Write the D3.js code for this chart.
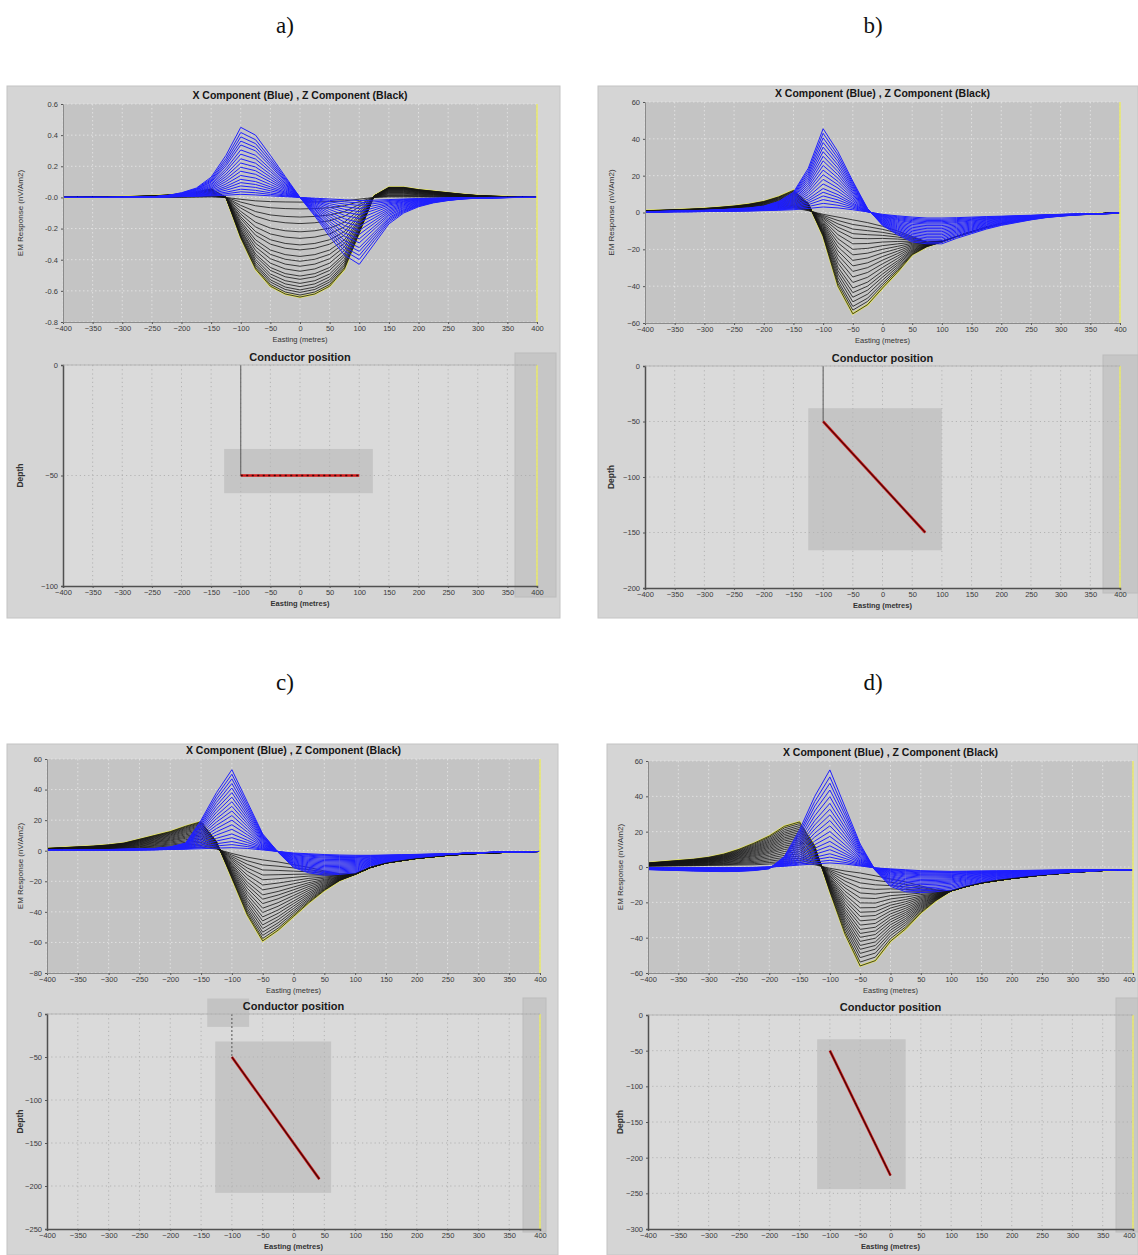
<!DOCTYPE html>
<html>
<head>
<meta charset="utf-8">
<script src="https://cdn.jsdelivr.net/npm/d3@7"></script>
<style>
  body { margin: 0; background: #ffffff; }
  svg { display: block; font-family: "Liberation Sans", Arial, sans-serif; }
</style>
</head>
<body>
<svg id="fig" width="1138" height="1255"></svg>
<script>
// ---------------------------------------------------------------
// Profile stations (easting, metres) shared by every response curve
// ---------------------------------------------------------------
const easting = [-400,-375,-350,-325,-300,-275,-250,-225,-200,-175,-150,-125,-100,-75,-50,-25,0,
                 25,50,75,100,125,150,175,200,225,250,275,300,325,350,375,400];
const eastingTicks = [-400,-350,-300,-250,-200,-150,-100,-50,0,50,100,150,200,250,300,350,400];

// ---------------- a) horizontal conductor, depth 50 m ----------------
const xEarlyA = [0,0,0,0,0.001,0.002,0.004,0.012,0.03,0.06,0.13,0.27,0.45,0.40,0.27,0.135,0,
                 -0.12,-0.25,-0.37,-0.43,-0.30,-0.17,-0.10,-0.06,-0.035,-0.02,-0.01,-0.005,-0.003,-0.001,0,0];
const xLateA  = [0,0,0,0,0,0.001,0.002,0.003,0.005,0.007,0.01,0.014,0.02,0.016,0.01,0.005,0,
                 -0.005,-0.01,-0.015,-0.02,-0.018,-0.014,-0.01,-0.007,-0.005,-0.003,-0.002,-0.001,0,0,0,0];
const zEarlyA = [0,0.001,0.002,0.003,0.005,0.007,0.01,0.015,0.022,0.035,0.055,0.0,-0.26,-0.46,-0.57,-0.62,-0.64,
                 -0.62,-0.57,-0.46,-0.23,0.01,0.065,0.065,0.05,0.04,0.03,0.02,0.012,0.008,0.005,0.002,0];
const zLateA  = [0,0,0,0,0,0,0,0.001,0.001,0.002,0.003,0,-0.012,-0.022,-0.027,-0.029,-0.03,
                 -0.029,-0.027,-0.022,-0.011,0,0.003,0.003,0.003,0.002,0.002,0.001,0.001,0,0,0,0];
// channel amplitudes: X read at easting -100, Z read at easting 0
const xChannelsA = [0.45,0.417,0.389,0.362,0.337,0.305,0.278,0.248,0.221,0.194,0.168,0.141,0.116,0.095,0.074,0.053,0.036,0.02];
const zChannelsA = [-0.64,-0.627,-0.61,-0.594,-0.573,-0.552,-0.526,-0.505,-0.474,-0.442,-0.41,-0.379,-0.337,-0.305,-0.263,-0.221,-0.168,-0.126,-0.074,-0.03];
const emTicksA = [0.6,0.4,0.2,0,-0.2,-0.4,-0.6,-0.8];
const emLabelsA = ["0.6","0.4","0.2","-0.0","-0.2","-0.4","-0.6","-0.8"];
const depthTicksA = [0,-50,-100];
const conductorA = [[-100,-50],[100,-50]];
const plateBoxA = [[-128,-38],[123,-58]];

// ---------------- b) dipping conductor, bottom at 150 m ----------------
const xEarlyB = [0.5,0.6,0.8,1,1.2,1.5,2,2.5,3.5,6,11,24,45.5,33,17,2,-7,
                 -12,-16,-17,-17,-14,-11.5,-9,-7,-5.5,-4,-2.8,-2,-1.4,-1,-0.7,-0.4];
const xLateB  = [0.3,0.3,0.4,0.4,0.5,0.6,0.7,0.8,1,1.2,1.5,2.2,3,2.5,1.5,0.3,-1,
                 -1.8,-2.5,-3,-3,-2.8,-2.5,-2.2,-2,-1.7,-1.5,-1.2,-1,-0.8,-0.6,-0.5,-0.3];
const zEarlyB = [1,1.2,1.5,1.8,2.2,2.8,3.5,4.5,6,8.5,12,5,-13,-40,-55,-50,-41,
                 -32.5,-23,-18.5,-16,-13,-10.5,-8,-6,-4.5,-3.2,-2.3,-1.6,-1.1,-0.8,-0.5,-0.3];
const zLateB  = [0.3,0.4,0.5,0.6,0.7,0.8,1,1.2,1.5,2,2.5,1,-1,-2.5,-4,-5.5,-7.5,
                 -10,-13,-16,-15.5,-13,-10.5,-8,-6,-4.5,-3.2,-2.3,-1.6,-1.1,-0.8,-0.5,-0.3];
const xChannelsB = [45.5,43,40.5,38,35.5,33,30.5,28,25.5,23,20.5,18,15.5,13,11,9,7,5,3];
const zChannelsB = [-55,-53,-51,-48.5,-46,-43.5,-41,-38,-35,-32,-29,-26,-23,-20,-17,-14,-11.5,-9,-6.5,-4];
const emTicksB = [60,40,20,0,-20,-40,-60];
const depthTicksB = [0,-50,-100,-150,-200];
const conductorB = [[-100,-50],[72,-150]];
const plateBoxB = [[-125,-38],[100,-166]];

// ---------------- c) dipping conductor, bottom at 192 m ----------------
const xEarlyC = [0.5,0.5,0.6,0.7,0.8,1,1.2,1.5,2.5,5,20,38,53,32,11,-1,-11,
                 -14.5,-16,-15.5,-14.5,-10,-7.5,-5.8,-4.5,-3.5,-2.5,-1.8,-1.3,-1,-0.8,-0.6,-0.5];
const xLateC  = [0.2,0.2,0.3,0.3,0.4,0.4,0.5,0.6,0.8,1,1.3,1.7,2,1.5,0.5,-0.5,-1.5,
                 -2,-2.5,-2.8,-3,-3,-2.8,-2.6,-2.4,-2.2,-2,-1.7,-1.4,-1.1,-0.9,-0.7,-0.5];
const zEarlyC = [1.5,2,2.5,3,3.8,5,7.5,10,12.5,16,19,6,-18,-42,-59,-52,-43,
                 -34,-26,-19.5,-15.5,-11,-8,-6.5,-5,-4,-3,-2.3,-1.8,-1.4,-1,-0.7,-0.5];
const zLateC  = [0.3,0.4,0.5,0.6,0.7,0.8,1,1.2,1.5,1.8,2,1,-1.5,-3.5,-5,-6.5,-8.5,
                 -10.5,-13,-15,-15,-11,-8,-6.5,-5,-4,-3,-2.3,-1.8,-1.4,-1,-0.7,-0.5];
const xChannelsC = [53,50,47,44,41,38,35,32,29,26,23,20,17,14,11,8.5,6,4,2];
const zChannelsC = [-59,-57.4,-55.4,-53.3,-50.9,-48.5,-45.9,-43.3,-40.4,-37.6,-34.6,-31.7,-28.9,-25.6,-22.4,-19,-15.9,-12.6,-9.3,-6];
const emTicksC = [60,40,20,0,-20,-40,-60,-80];
const depthTicksC = [0,-50,-100,-150,-200,-250];
const conductorC = [[-100,-50],[42,-192]];
const plateBoxC = [[-127,-32],[61,-208]];
const upperBoxC = [[-140,18],[-72,-15]];

// ---------------- d) dipping conductor, bottom at 225 m ----------------
const xEarlyD = [-1.5,-1.8,-2,-2.3,-2.5,-2.6,-2.5,-2,-1,6,21,40,55,34,13,-2,-11,
                 -14,-14.5,-14,-13,-10.5,-8.5,-7,-6,-5,-4.3,-3.6,-3,-2.5,-2,-1.7,-1.5];
const xLateD  = [-0.3,-0.3,-0.4,-0.4,-0.4,-0.4,-0.3,-0.2,0,0.4,1,1.5,2,1.5,0.5,-0.5,-1,
                 -1.5,-2,-2.2,-2.4,-2.3,-2.2,-2.1,-2,-1.9,-1.8,-1.7,-1.6,-1.6,-1.5,-1.5,-1.5];
const zEarlyD = [2.3,3,3.7,4.4,5.5,7.3,10,13.5,17.5,23,25.5,12,-14,-38,-56,-53,-42,
                 -35,-26,-19,-13.5,-11,-9,-7.7,-6.5,-5.5,-4.5,-3.8,-3,-2.5,-2,-1.7,-1.5];
const zLateD  = [0.5,0.6,0.7,0.8,1,1.1,1.3,1.5,2,2.5,3,1.5,-1,-3,-4.5,-6,-7.5,
                 -9,-11,-13,-13.5,-11,-9,-7.7,-6.5,-5.5,-4.5,-3.8,-3,-2.5,-2,-1.7,-1.5];
const xChannelsD = [55,51,47.4,43.6,39.8,36,32.7,29.5,26.3,23.3,20.1,17.3,14.5,12,9.8,7.5,5.6,3.8,2.3];
const zChannelsD = [-56,-53.8,-51.3,-48.9,-46.6,-44.4,-42.1,-39.8,-37.6,-35.3,-32.9,-30.5,-28,-25.6,-23.1,-20.3,-17.5,-14.7,-11.8,-9,-6.2,-3.4];
const emTicksD = [60,40,20,0,-20,-40,-60];
const depthTicksD = [0,-50,-100,-150,-200,-250,-300];
const conductorD = [[-100,-50],[0,-225]];
const plateBoxD = [[-121,-34],[25,-244]];

// ---------------------------------------------------------------
// Panel definitions: data references plus screen layout
// ---------------------------------------------------------------
const panels = [
  { id:"a", label:"a)", lx:285, ly:33, win:[7,86,560,618],
    top:{l:63,r:537,t:104,b:322}, bot:{l:63,r:537,t:365,b:586}, band:[515,353,556,597],
    xEarly:xEarlyA, xLate:xLateA, zEarly:zEarlyA, zLate:zLateA,
    xCh:xChannelsA, xRef:-100, zCh:zChannelsA, zRef:0,
    emTicks:emTicksA, emLabels:emLabelsA, depthTicks:depthTicksA,
    conductor:conductorA, plate:plateBoxA, extraBox:null, topLine:true, dotted:true, edge:false },
  { id:"b", label:"b)", lx:873, ly:33, win:[598,86,1138,618],
    top:{l:645,r:1120,t:102,b:323}, bot:{l:645,r:1120,t:366,b:588}, band:[1103,355,1138,593],
    xEarly:xEarlyB, xLate:xLateB, zEarly:zEarlyB, zLate:zLateB,
    xCh:xChannelsB, xRef:-100, zCh:zChannelsB, zRef:-50,
    emTicks:emTicksB, emLabels:null, depthTicks:depthTicksB,
    conductor:conductorB, plate:plateBoxB, extraBox:null, topLine:true, dotted:false, edge:false },
  { id:"c", label:"c)", lx:285, ly:690, win:[7,744,558,1255],
    top:{l:47,r:540,t:759,b:973}, bot:{l:47,r:540,t:1014,b:1229}, band:[523,998,546,1232],
    xEarly:xEarlyC, xLate:xLateC, zEarly:zEarlyC, zLate:zLateC,
    xCh:xChannelsC, xRef:-100, zCh:zChannelsC, zRef:-50,
    emTicks:emTicksC, emLabels:null, depthTicks:depthTicksC,
    conductor:conductorC, plate:plateBoxC, extraBox:upperBoxC, topLine:true, dotted:false, edge:false },
  { id:"d", label:"d)", lx:873, ly:690, win:[607,744,1138,1255],
    top:{l:648,r:1133,t:761,b:973}, bot:{l:648,r:1133,t:1015,b:1229}, band:[1116,998,1138,1232],
    xEarly:xEarlyD, xLate:xLateD, zEarly:zEarlyD, zLate:zLateD,
    xCh:xChannelsD, xRef:-100, zCh:zChannelsD, zRef:-50,
    emTicks:emTicksD, emLabels:null, depthTicks:depthTicksD,
    conductor:conductorD, plate:plateBoxD, extraBox:null, topLine:false, dotted:false, edge:true }
];

const svg = d3.select("#fig");

// Each decay channel sits between the early-time and late-time profiles,
// placed by its own amplitude at the reference station.
function channelProfiles(early, late, channels, refEasting) {
  const k = easting.indexOf(refEasting);
  const span = early[k] - late[k];
  return channels.map(v => {
    const t = Math.min(1, (v - late[k]) / span);
    return easting.map((e, i) => [e, late[i] + t * (early[i] - late[i])]);
  });
}

function styleAxis(g, size, edge) {
  g.selectAll("text").attr("font-size", size).attr("fill", "#3a3a3a");
  g.selectAll(".tick line").attr("stroke", "#555");
  // keep the last easting label inside the window when the plot runs to the page edge
  if (edge) g.selectAll(".tick").filter(d => d === 400).select("text").attr("text-anchor", "end").attr("dx", "0.3em");
}

function drawPanel(p) {
  const root = svg.append("g").attr("class", "panel-" + p.id);

  // panel letter
  root.append("text").attr("x", p.lx).attr("y", p.ly)
    .attr("text-anchor", "middle").attr("font-family", "'Liberation Serif', 'Times New Roman', serif")
    .attr("font-size", 23).attr("fill", "#111").text(p.label);

  // application window
  const [wx0, wy0, wx1, wy1] = p.win;
  root.append("rect").attr("x", wx0).attr("y", wy0).attr("width", wx1 - wx0).attr("height", wy1 - wy0)
    .attr("fill", "#d5d5d5").attr("stroke", "#c4c4c4");

  // ================= EM response profiles =================
  const T = p.top;
  const x = d3.scaleLinear().domain([-400, 400]).range([T.l, T.r]);
  const yDom = d3.extent(p.emTicks);
  const y = d3.scaleLinear().domain(yDom).range([T.b, T.t]);

  root.append("rect").attr("x", T.l).attr("y", T.t).attr("width", T.r - T.l).attr("height", T.b - T.t)
    .attr("fill", "#c4c4c4");

  const grid = root.append("g");
  grid.selectAll("line.v").data(eastingTicks).join("line")
    .attr("x1", d => x(d)).attr("x2", d => x(d)).attr("y1", T.t).attr("y2", T.b)
    .attr("stroke", "#e9e9e9").attr("stroke-width", 0.8).attr("stroke-dasharray", "1.5,2.5");
  grid.selectAll("line.h").data(p.emTicks).join("line")
    .attr("x1", T.l).attr("x2", T.r).attr("y1", d => y(d)).attr("y2", d => y(d))
    .attr("stroke", "#e9e9e9").attr("stroke-width", 0.8).attr("stroke-dasharray", "1.5,2.5");

  const clipId = "clip-top-" + p.id;
  root.append("clipPath").attr("id", clipId).append("rect")
    .attr("x", T.l).attr("y", T.t - 2).attr("width", T.r - T.l).attr("height", T.b - T.t + 4);
  const curves = root.append("g").attr("clip-path", `url(#${clipId})`);
  const line = d3.line().x(d => x(d[0])).y(d => y(d[1]));

  const zProfiles = channelProfiles(p.zEarly, p.zLate, p.zCh, p.zRef);
  const xProfiles = channelProfiles(p.xEarly, p.xLate, p.xCh, p.xRef);

  // earliest Z channel carries a yellow highlight underneath
  curves.append("path").attr("d", line(zProfiles[0])).attr("fill", "none")
    .attr("stroke", "#e6e65a").attr("stroke-width", 2.2);
  curves.selectAll("path.z").data(zProfiles).join("path").attr("class", "z")
    .attr("d", line).attr("fill", "none").attr("stroke", "#141414").attr("stroke-width", 0.8);
  curves.selectAll("path.x").data(xProfiles).join("path").attr("class", "x")
    .attr("d", line).attr("fill", "none").attr("stroke", "#1f1fff").attr("stroke-width", 1);

  // cursor at the end of the profile
  root.append("line").attr("x1", x(400)).attr("x2", x(400)).attr("y1", T.t).attr("y2", T.b)
    .attr("stroke", "#e8e870").attr("stroke-width", 1.6);

  const xa = root.append("g").attr("transform", `translate(0,${T.b})`)
    .call(d3.axisBottom(x).tickValues(eastingTicks).tickSize(2).tickPadding(2));
  xa.select(".domain").attr("stroke", "#8a8a8a");
  styleAxis(xa, 7.5, p.edge);

  const ya = root.append("g").attr("transform", `translate(${T.l},0)`)
    .call(d3.axisLeft(y).tickValues(p.emTicks).tickSize(2).tickPadding(3)
      .tickFormat((d, i) => p.emLabels ? p.emLabels[i] : d3.format("d")(d)));
  ya.select(".domain").attr("stroke", "#8a8a8a");
  styleAxis(ya, 7.5, false);

  root.append("text").attr("x", (T.l + T.r) / 2).attr("y", T.t - 5)
    .attr("text-anchor", "middle").attr("font-size", 10.5).attr("font-weight", "bold").attr("fill", "#151515")
    .text("X Component (Blue) , Z Component (Black)");
  root.append("text").attr("x", (T.l + T.r) / 2).attr("y", T.b + 20)
    .attr("text-anchor", "middle").attr("font-size", 7.5).attr("fill", "#333").text("Easting (metres)");
  root.append("text")
    .attr("transform", `translate(${wx0 + 16},${(T.t + T.b) / 2}) rotate(-90)`)
    .attr("text-anchor", "middle").attr("font-size", 8).attr("fill", "#333").text("EM Response (nV/Am2)");

  // ================= conductor position section =================
  const B = p.bot;
  const dMin = d3.min(p.depthTicks);
  const yd = d3.scaleLinear().domain([dMin, 0]).range([B.b, B.t]);
  const xd = d3.scaleLinear().domain([-400, 400]).range([B.l, B.r]);

  root.append("rect").attr("x", B.l).attr("y", B.t).attr("width", B.r - B.l).attr("height", B.b - B.t)
    .attr("fill", "#dadada");

  const [bx0, by0, bx1, by1] = p.band;
  root.append("rect").attr("x", bx0).attr("y", by0).attr("width", bx1 - bx0).attr("height", by1 - by0)
    .attr("fill", "#c6c6c6").attr("stroke", "#bcbcbc");

  const g2 = root.append("g");
  g2.selectAll("line.v").data(eastingTicks.filter(d => d > -400)).join("line")
    .attr("x1", d => xd(d)).attr("x2", d => xd(d)).attr("y1", B.t).attr("y2", B.b)
    .attr("stroke", "#a9a9a9").attr("stroke-width", 0.8).attr("stroke-dasharray", "1.2,3");
  g2.selectAll("line.h").data(p.depthTicks.filter(d => d > dMin)).join("line")
    .attr("x1", B.l).attr("x2", B.r).attr("y1", d => yd(d)).attr("y2", d => yd(d))
    .attr("stroke", "#a9a9a9").attr("stroke-width", 0.8).attr("stroke-dasharray", "1.2,3");

  // search window around the plate
  const boxes = [p.plate].concat(p.extraBox ? [p.extraBox] : []);
  g2.selectAll("rect.box").data(boxes).join("rect").attr("class", "box")
    .attr("x", d => xd(d[0][0])).attr("y", d => yd(d[0][1]))
    .attr("width", d => xd(d[1][0]) - xd(d[0][0])).attr("height", d => yd(d[1][1]) - yd(d[0][1]))
    .attr("fill", "#b5b5b5").attr("fill-opacity", 0.55);

  const cl = d3.line().x(d => xd(d[0])).y(d => yd(d[1]));
  const top = p.conductor[0];
  if (p.topLine) {
    g2.append("path").attr("d", cl([[top[0], 0], top])).attr("fill", "none")
      .attr("stroke", "#5a5a5a").attr("stroke-width", 1)
      .attr("stroke-dasharray", p.id === "c" ? "2,2" : null);
  }
  g2.append("path").attr("d", cl(p.conductor)).attr("fill", "none")
    .attr("stroke", "#d01818").attr("stroke-width", 2.6);
  g2.append("path").attr("d", cl(p.conductor)).attr("fill", "none")
    .attr("stroke", "#3a0606").attr("stroke-width", p.dotted ? 1.4 : 1.1)
    .attr("stroke-dasharray", p.dotted ? "2,3.5" : null);

  root.append("line").attr("x1", xd(400)).attr("x2", xd(400)).attr("y1", B.t).attr("y2", B.b)
    .attr("stroke", "#e8e870").attr("stroke-width", 1.6);

  const xb = root.append("g").attr("transform", `translate(0,${B.b})`)
    .call(d3.axisBottom(xd).tickValues(eastingTicks).tickSize(2).tickPadding(2));
  xb.select(".domain").attr("stroke", "#505050").attr("stroke-width", 1.5);
  styleAxis(xb, 7.5, p.edge);
  const yb = root.append("g").attr("transform", `translate(${B.l},0)`)
    .call(d3.axisLeft(yd).tickValues(p.depthTicks).tickSize(2).tickPadding(3).tickFormat(d3.format("d")));
  yb.select(".domain").attr("stroke", "#505050").attr("stroke-width", 1.5);
  styleAxis(yb, 7.5, false);
  root.append("line").attr("x1", B.l).attr("x2", B.r).attr("y1", B.t).attr("y2", B.t)
    .attr("stroke", "#b0b0b0").attr("stroke-width", 0.8);

  root.append("text").attr("x", (B.l + B.r) / 2).attr("y", B.t - 4)
    .attr("text-anchor", "middle").attr("font-size", 11).attr("font-weight", "bold").attr("fill", "#1a1a1a")
    .text("Conductor position");
  root.append("text").attr("x", (B.l + B.r) / 2).attr("y", B.b + 20)
    .attr("text-anchor", "middle").attr("font-size", 7.5).attr("font-weight", "bold").attr("fill", "#333")
    .text("Easting (metres)");
  root.append("text")
    .attr("transform", `translate(${wx0 + 16},${(B.t + B.b) / 2}) rotate(-90)`)
    .attr("text-anchor", "middle").attr("font-size", 8.5).attr("font-weight", "bold").attr("fill", "#333").text("Depth");
}

panels.forEach(drawPanel);
</script>
</body>
</html>
